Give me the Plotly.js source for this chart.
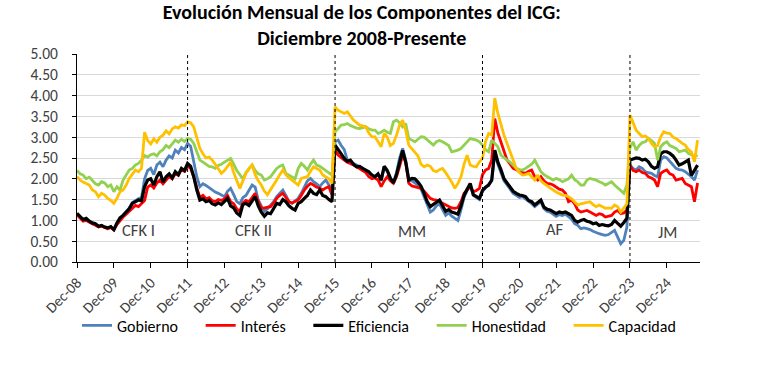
<!DOCTYPE html>
<html>
<head>
<meta charset="utf-8">
<script src="https://cdn.plot.ly/plotly-3.0.1.min.js"></script>
<style>
html,body{margin:0;padding:0;background:#ffffff;}
#chart{width:768px;height:367px;}
</style>
</head>
<body>
<div id="chart"></div>
<script>
// ---------- DATA ----------
const monthNames = ['Jan','Feb','Mar','Apr','May','Jun','Jul','Aug','Sep','Oct','Nov','Dec'];
// monthly categories Dec-08 ... Oct-25 (203 months)
const months = [];
for (let i = 0; i < 203; i++) {
  const k = 11 + i;
  const yr = 2008 + Math.floor(k / 12);
  months.push(monthNames[k % 12] + '-' + String(yr).slice(2));
}
const yearTicks = ['Dec-08','Dec-09','Dec-10','Dec-11','Dec-12','Dec-13','Dec-14','Dec-15',
                   'Dec-16','Dec-17','Dec-18','Dec-19','Dec-20','Dec-21','Dec-22','Dec-23','Dec-24'];
const governmentChanges = ['Dec-11','Dec-15','Dec-19','Dec-23'];
const periodNames = ['CFK I','CFK II','MM','AF','JM'];
const seriesNames = ['Gobierno','Interés','Eficiencia','Honestidad','Capacidad'];

const gobierno = [
 1.15,1.08,1.00,1.03,0.97,0.92,0.90,0.85,0.87,0.83,0.80,0.84,0.77,
 0.92,1.04,1.12,1.20,1.30,1.43,1.48,1.52,1.55,2.00,2.20,2.25,
 2.10,2.33,2.40,2.29,2.45,2.55,2.50,2.69,2.62,2.75,2.70,2.85,
 2.78,2.40,2.05,1.81,1.88,1.84,1.78,1.73,1.68,1.65,1.60,1.57,
 1.70,1.77,1.62,1.45,1.40,1.55,1.60,1.72,1.85,1.80,1.49,1.35,
 1.22,1.28,1.36,1.45,1.57,1.65,1.73,1.60,1.45,1.41,1.48,1.53,
 1.65,1.81,1.95,2.01,1.93,1.88,1.81,1.90,1.97,1.85,1.73,2.89,
 2.93,2.80,2.70,2.45,2.40,2.37,2.33,2.29,2.25,2.17,2.12,2.09,
 2.05,2.10,1.95,2.28,2.18,2.00,1.92,2.15,2.50,2.73,2.45,1.97,
 1.95,1.90,1.85,1.75,1.55,1.35,1.20,1.25,1.35,1.40,1.25,1.12,
 1.18,1.10,1.05,1.00,1.25,1.55,1.72,1.85,1.60,1.55,1.50,1.70,
 1.78,1.85,1.95,2.62,2.35,2.15,1.95,1.85,1.75,1.65,1.60,1.55,
 1.57,1.52,1.45,1.40,1.33,1.38,1.45,1.28,1.22,1.20,1.15,1.10,
 1.14,1.12,1.15,1.08,1.03,0.92,0.88,0.80,0.82,0.80,0.78,0.74,
 0.70,0.68,0.66,0.64,0.66,0.70,0.76,0.60,0.44,0.52,0.84,2.33,
 2.25,2.21,2.29,2.25,2.17,2.15,2.13,2.08,2.05,2.45,2.53,2.50,
 2.41,2.33,2.25,2.22,2.21,2.17,2.12,2.05,1.97,2.21
];
const interes = [
 1.13,1.05,0.98,1.00,0.95,0.92,0.88,0.84,0.86,0.82,0.80,0.83,0.77,
 0.90,1.00,1.08,1.15,1.22,1.30,1.36,1.33,1.40,1.48,1.80,1.85,
 1.78,1.90,1.97,1.88,1.97,2.05,2.00,2.12,2.08,2.22,2.18,2.30,
 2.25,2.05,1.78,1.55,1.60,1.52,1.55,1.48,1.45,1.50,1.48,1.52,
 1.60,1.45,1.40,1.28,1.22,1.42,1.48,1.45,1.55,1.65,1.45,1.29,
 1.30,1.32,1.33,1.42,1.53,1.60,1.65,1.55,1.45,1.42,1.45,1.49,
 1.60,1.73,1.82,1.89,1.85,1.80,1.78,1.73,1.78,1.81,1.61,2.69,
 2.57,2.50,2.45,2.40,2.37,2.33,2.29,2.25,2.21,2.15,2.05,2.00,
 2.02,1.97,1.81,1.95,2.05,1.95,1.89,2.05,2.29,2.57,2.40,1.89,
 1.83,1.81,1.79,1.77,1.70,1.62,1.53,1.50,1.49,1.45,1.41,1.37,
 1.33,1.30,1.29,1.31,1.45,1.65,1.73,1.81,1.69,1.72,1.77,2.10,
 2.21,2.25,2.45,3.45,3.10,2.90,2.70,2.45,2.35,2.25,2.22,2.17,
 2.15,2.13,2.18,2.21,2.05,1.97,2.05,1.95,1.89,1.88,1.85,1.80,
 1.75,1.73,1.65,1.45,1.49,1.40,1.25,1.20,1.22,1.24,1.20,1.15,
 1.12,1.16,1.14,1.08,1.10,1.12,1.20,1.24,1.16,1.18,1.25,2.33,
 2.20,2.17,2.21,2.15,2.13,2.05,2.02,1.97,1.81,2.13,2.18,2.21,
 2.12,2.09,1.97,1.99,2.01,1.89,1.85,1.81,1.45,1.90
];
const eficiencia = [
 1.17,1.10,1.02,1.05,0.98,0.94,0.92,0.86,0.88,0.84,0.82,0.85,0.78,
 0.94,1.06,1.12,1.21,1.28,1.41,1.46,1.49,1.47,1.81,1.97,2.00,
 1.85,2.05,2.17,1.92,2.05,2.12,2.02,2.17,2.10,2.25,2.20,2.37,
 2.30,2.05,1.73,1.49,1.52,1.45,1.48,1.40,1.37,1.42,1.38,1.45,
 1.53,1.35,1.30,1.18,1.12,1.38,1.41,1.36,1.48,1.57,1.35,1.20,
 1.10,1.18,1.16,1.28,1.41,1.38,1.50,1.45,1.35,1.29,1.25,1.41,
 1.45,1.53,1.60,1.73,1.65,1.62,1.73,1.60,1.57,1.50,1.45,2.81,
 2.69,2.60,2.49,2.42,2.45,2.35,2.29,2.30,2.25,2.22,2.17,2.09,
 2.05,2.12,1.97,2.30,2.20,2.02,1.90,2.10,2.42,2.68,2.40,1.97,
 2.01,2.00,1.92,1.82,1.65,1.45,1.33,1.38,1.45,1.49,1.35,1.22,
 1.26,1.20,1.18,1.15,1.35,1.60,1.75,1.89,1.62,1.58,1.53,1.72,
 1.80,1.85,1.97,2.69,2.40,2.22,2.00,1.90,1.81,1.70,1.65,1.61,
 1.60,1.57,1.48,1.45,1.37,1.42,1.49,1.32,1.27,1.25,1.20,1.16,
 1.20,1.18,1.20,1.15,1.12,1.00,0.96,1.00,1.02,0.98,0.96,0.92,
 0.94,0.88,0.90,0.88,0.87,0.90,1.00,0.93,0.86,0.95,1.05,2.45,
 2.48,2.50,2.49,2.45,2.47,2.41,2.30,2.25,2.29,2.60,2.65,2.65,
 2.61,2.55,2.45,2.33,2.36,2.41,2.45,2.08,2.20,2.33
];
const honestidad = [
 2.20,2.12,2.09,2.00,2.04,1.97,1.88,1.85,1.93,1.90,1.81,1.85,1.69,
 1.81,1.73,1.97,2.09,2.21,2.25,2.33,2.37,2.45,2.56,2.52,2.58,
 2.60,2.55,2.65,2.70,2.80,2.75,2.85,2.93,2.88,2.95,2.90,2.97,
 2.95,2.85,2.65,2.45,2.40,2.35,2.30,2.29,2.25,2.32,2.35,2.40,
 2.45,2.49,2.35,2.20,2.10,2.00,2.15,2.25,2.33,2.20,2.12,2.09,
 1.97,2.00,2.05,2.15,2.25,2.30,2.33,2.13,2.08,2.03,2.00,2.25,
 2.37,2.30,2.21,2.35,2.45,2.33,2.30,2.25,2.20,2.13,2.09,3.13,
 3.20,3.29,3.30,3.33,3.28,3.25,3.22,3.21,3.23,3.25,3.20,3.17,
 3.17,3.09,3.12,3.17,3.12,3.09,3.37,3.41,3.35,3.25,3.33,2.97,
 2.93,2.89,2.95,3.01,3.00,2.93,2.88,2.81,2.89,2.92,2.89,2.85,
 2.80,2.65,2.67,2.69,2.73,2.81,2.90,2.97,2.95,2.93,2.89,2.81,
 2.70,2.65,2.93,2.85,2.77,2.57,2.50,2.45,2.40,2.33,2.25,2.22,
 2.21,2.25,2.29,2.35,2.45,2.30,2.17,2.10,2.05,2.00,1.97,2.01,
 1.98,1.93,1.97,2.00,2.09,1.98,1.93,1.85,1.85,1.97,2.01,1.99,
 1.97,1.93,1.90,1.85,1.90,1.93,1.85,1.79,1.72,1.65,1.85,2.75,
 2.89,2.69,2.80,2.87,2.89,2.97,2.92,2.85,2.45,2.77,2.85,2.89,
 2.80,2.77,2.73,2.65,2.67,2.69,2.61,2.58,2.53,2.57
];
const capacidad = [
 2.05,1.97,1.92,1.89,1.85,1.73,1.69,1.57,1.65,1.61,1.53,1.48,1.41,
 1.53,1.69,1.73,1.85,2.01,2.12,2.21,2.17,2.25,3.12,2.92,2.84,
 2.96,2.88,3.00,3.05,3.15,3.08,3.20,3.25,3.22,3.30,3.28,3.37,
 3.35,3.25,3.00,2.73,2.60,2.50,2.52,2.45,2.35,2.25,2.13,2.20,
 2.30,2.40,2.15,1.97,1.77,1.95,2.13,2.25,2.33,2.10,1.95,1.85,
 1.70,1.62,1.73,1.85,1.97,2.10,2.21,2.10,2.02,1.97,1.90,1.85,
 2.01,2.03,2.05,2.18,2.29,2.25,2.21,2.09,2.05,2.00,1.89,3.73,
 3.65,3.60,3.57,3.61,3.50,3.41,3.35,3.29,3.27,3.25,3.10,3.01,
 3.01,2.90,2.77,3.09,3.00,2.80,2.85,3.05,3.29,3.41,3.17,2.81,
 2.72,2.65,2.55,2.35,2.29,2.33,2.30,2.20,2.17,2.22,2.25,2.15,
 2.05,1.92,1.77,1.89,2.05,2.35,2.57,2.33,2.30,2.29,2.41,2.49,
 2.90,3.09,3.05,3.94,3.57,3.30,3.05,2.85,2.65,2.41,2.25,2.15,
 2.09,2.10,2.13,2.05,1.97,2.09,1.95,1.89,1.83,1.78,1.73,1.68,
 1.65,1.61,1.60,1.57,1.52,1.45,1.37,1.40,1.42,1.43,1.45,1.38,
 1.33,1.37,1.32,1.29,1.30,1.29,1.37,1.33,1.20,1.30,1.40,3.53,
 3.37,3.17,3.09,3.01,3.03,2.97,2.85,2.77,2.80,3.01,3.13,3.10,
 3.09,3.00,2.97,2.90,2.85,2.81,2.70,2.65,2.41,2.93
];

// ---------- STYLE ----------
const FONT = 'Carlito, Lato, "Liberation Sans", sans-serif';
const colors = ['#4f81bd','#ff0000','#000000','#92d050','#ffc000'];
const widths = [2.8, 2.8, 3.2, 2.8, 2.8];
const seriesData = [gobierno, interes, eficiencia, honestidad, capacidad];
const legendPad = '\u00a0\u00a0\u00a0\u00a0\u2009';

const traces = seriesData.map((vals, i) => ({
  type: 'scatter',
  mode: 'lines',
  name: seriesNames[i] + legendPad,
  x: months.slice(0, vals.length),
  y: vals,
  line: {color: colors[i], width: widths[i]},
  hoverinfo: 'skip'
}));

const shapes = governmentChanges.map(c => ({
  type: 'line', xref: 'x', yref: 'y',
  x0: months.indexOf(c), x1: months.indexOf(c), y0: 0, y1: 5,
  line: {color: '#000000', width: 1, dash: 'dot'}
}));

const labelPos = [[20, 0.78], [57.5, 0.76], [109, 0.74], [155.5, 0.80], [192.2, 0.72]];
const annotations = periodNames.map((t, i) => ({
  text: t, xref: 'x', yref: 'y', x: labelPos[i][0], y: labelPos[i][1],
  showarrow: false, xanchor: 'center', yanchor: 'middle',
  font: {family: FONT, size: 16.5, color: '#404040'}
}));

const layout = {
  width: 768, height: 367,
  paper_bgcolor: '#ffffff', plot_bgcolor: '#ffffff',
  margin: {l: 77, r: 68, t: 54, b: 105, autoexpand: false},
  title: {
    text: '<b>Evolución Mensual de los Componentes del ICG:</b><br><b>Diciembre 2008-Presente</b>',
    font: {family: FONT, size: 20, color: '#000000'},
    x: 0.471, xanchor: 'center', xref: 'container',
    y: 0.949, yanchor: 'top', yref: 'container'
  },
  showlegend: true,
  legend: {
    orientation: 'h', x: 0.0, xanchor: 'left', y: -0.305, yanchor: 'middle',
    font: {family: FONT, size: 16, color: '#000000'},
    bgcolor: 'rgba(0,0,0,0)', itemwidth: 30, tracegroupgap: 0
  },
  xaxis: {
    type: 'category',
    range: [0, 202.8],
    tickmode: 'array', tickvals: yearTicks, ticktext: yearTicks,
    tickangle: -45,
    ticks: 'outside', ticklen: 5, tickcolor: '#000000', tickwidth: 1,
    showline: true, linecolor: '#000000', linewidth: 1,
    showgrid: false, zeroline: false, automargin: false,
    tickfont: {family: FONT, size: 15, color: '#404040'}
  },
  yaxis: {
    range: [0, 5], tick0: 0, dtick: 0.5, tickformat: '.2f',
    ticks: 'outside', ticklen: 4, tickcolor: '#000000', tickwidth: 1,
    ticklabelstandoff: 11,
    showline: true, linecolor: '#000000', linewidth: 1,
    showgrid: true, gridcolor: '#d9d9d9', gridwidth: 1,
    zeroline: false, automargin: false,
    tickfont: {family: FONT, size: 15.5, color: '#404040'}
  },
  shapes: shapes,
  annotations: annotations
};

Plotly.newPlot('chart', traces, layout, {displayModeBar: false, staticPlot: true});
</script>
</body>
</html>
